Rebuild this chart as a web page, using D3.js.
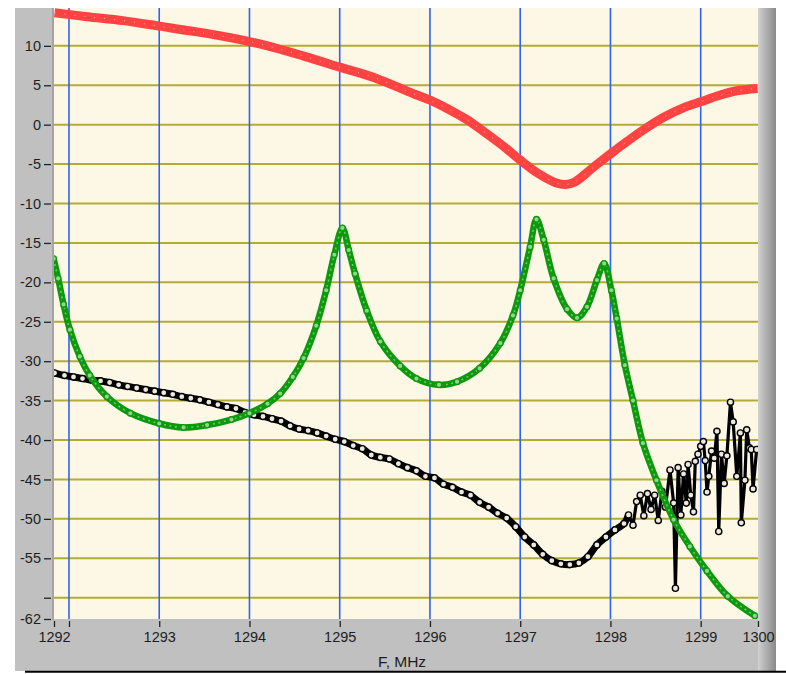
<!DOCTYPE html>
<html>
<head>
<meta charset="utf-8">
<script src="https://cdn.jsdelivr.net/npm/d3@7"></script>
<style>
  html, body { margin: 0; padding: 0; background: #ffffff; }
  svg { display: block; }
</style>
</head>
<body>
<svg id="chart" width="786" height="674"></svg>
<script>
// ---------- data ----------
const xDomain = [1291.834, 1299.635];
const yDomain = [-62.7, 14.8];
const xTickValues = [1292, 1293, 1294, 1295, 1296, 1297, 1298, 1299];
const yTickValues = [-60, -55, -50, -45, -40, -35, -30, -25, -20, -15, -10, -5, 0, 5, 10];
const xAxisTitle = "F, MHz";

const freqRed = [1291.84, 1292.2, 1292.6, 1293.0, 1293.4, 1293.8, 1294.2, 1294.6, 1295.0, 1295.4,
  1295.8, 1296.0, 1296.2, 1296.4, 1296.6, 1296.8, 1297.0, 1297.2, 1297.4, 1297.5, 1297.6, 1297.8,
  1298.0, 1298.2, 1298.4, 1298.6, 1298.8, 1299.0, 1299.2, 1299.4, 1299.63];
const valRed = [14.2, 13.7, 13.2, 12.5, 11.8, 11.0, 10.0, 8.7, 7.3, 5.9,
  4.0, 3.1, 2.0, 0.7, -0.9, -2.6, -4.5, -6.2, -7.4, -7.6, -7.3, -5.5,
  -3.7, -2.0, -0.4, 1.0, 2.1, 2.9, 3.7, 4.3, 4.6];

const freqGreen = [1291.83, 1291.88, 1291.94, 1292.01, 1292.12, 1292.23, 1292.42, 1292.68, 1293.0, 1293.27,
  1293.53, 1293.8, 1294.0, 1294.2, 1294.34, 1294.48, 1294.6, 1294.74, 1294.85, 1294.94,
  1295.03, 1295.1, 1295.17, 1295.3, 1295.45, 1295.67, 1295.85, 1296.1, 1296.3, 1296.55,
  1296.78, 1296.92, 1297.0, 1297.11, 1297.18, 1297.26, 1297.37, 1297.52, 1297.63, 1297.74,
  1297.85, 1297.93, 1298.01, 1298.07, 1298.16, 1298.25, 1298.36, 1298.51, 1298.7, 1298.88,
  1299.07, 1299.3, 1299.6];
const valGreen = [-17.0, -19.5, -22.8, -26.0, -29.4, -31.8, -34.5, -36.6, -37.9, -38.4,
  -38.1, -37.4, -36.6, -35.4, -34.1, -32.0, -29.6, -25.5, -21.0, -16.5,
  -13.1, -15.9, -18.9, -23.6, -27.5, -30.6, -32.2, -33.0, -32.6, -30.9,
  -27.7, -24.2, -21.0, -15.5, -12.0, -14.6, -19.5, -23.4, -24.5, -23.1,
  -19.7, -17.6, -21.0, -24.6, -30.5, -35.0, -40.4, -45.1, -50.1, -53.5,
  -56.6, -59.8, -62.3];

const freqBlack = [1291.84, 1291.95, 1292.05, 1292.15, 1292.25, 1292.35, 1292.45, 1292.55, 1292.65, 1292.75,
  1292.85, 1292.95, 1293.05, 1293.15, 1293.25, 1293.35, 1293.45, 1293.55, 1293.65, 1293.75,
  1293.85, 1293.95, 1294.05, 1294.15, 1294.25, 1294.35, 1294.45, 1294.55, 1294.65, 1294.75,
  1294.85, 1294.95, 1295.05, 1295.15, 1295.25, 1295.35, 1295.45, 1295.55, 1295.65, 1295.75,
  1295.85, 1295.95, 1296.05, 1296.15, 1296.25, 1296.35, 1296.45, 1296.55, 1296.65, 1296.75,
  1296.85, 1296.95, 1297.05, 1297.15, 1297.25, 1297.35, 1297.45, 1297.55, 1297.65, 1297.75,
  1297.85, 1297.95, 1298.05, 1298.15, 1298.2, 1298.25, 1298.29, 1298.33, 1298.37, 1298.41,
  1298.45, 1298.49, 1298.53, 1298.57, 1298.61, 1298.66, 1298.7, 1298.72, 1298.75, 1298.78,
  1298.81, 1298.84, 1298.86, 1298.89, 1298.92, 1298.94, 1298.97, 1299.0, 1299.03, 1299.05,
  1299.07, 1299.09, 1299.12, 1299.15, 1299.18, 1299.2, 1299.23, 1299.26, 1299.29, 1299.33,
  1299.36, 1299.4, 1299.44, 1299.45, 1299.49, 1299.51, 1299.54, 1299.56, 1299.58, 1299.62];
const valBlack = [-31.5, -31.8, -32.0, -32.2, -32.4, -32.5, -32.7, -33.0, -33.2, -33.4,
  -33.6, -33.8, -34.0, -34.2, -34.5, -34.7, -34.9, -35.2, -35.5, -35.8,
  -36.0, -36.5, -36.8, -37.0, -37.3, -37.6, -38.2, -38.6, -38.8, -39.1,
  -39.5, -39.9, -40.2, -40.7, -41.1, -41.9, -42.2, -42.4, -43.0, -43.5,
  -43.9, -44.6, -44.8, -45.6, -46.0, -46.6, -47.0, -47.9, -48.5, -49.3,
  -49.9, -51.0, -52.3, -53.3, -54.5, -55.3, -55.7, -55.8, -55.6, -54.8,
  -53.3, -52.3, -51.4, -50.6, -49.5, -50.8, -47.8, -47.0, -49.6, -46.8,
  -48.8, -47.0, -50.2, -46.5, -48.5, -43.8, -48.0, -58.8, -43.5, -49.5,
  -44.3, -48.0, -43.1, -47.0, -49.1, -42.7, -41.8, -40.8, -40.2, -42.6,
  -46.6, -44.6, -41.4, -42.3, -38.9, -51.6, -41.8, -45.5, -42.0, -35.2,
  -37.7, -44.6, -39.1, -50.5, -45.1, -38.7, -41.0, -41.2, -46.2, -41.2];

// ---------- layout ----------
const svg = d3.select("#chart");
const plot = { left: 54, right: 758, top: 8, bottom: 619 };
const FONT = "'Liberation Sans', Arial, sans-serif";
const TEXT = "#1e1e1e";
const noiseStart = 1298.2; // where the black trace turns noisy (style change only)

const x = d3.scaleLinear().domain(xDomain).range([plot.left, plot.right]);
const y = d3.scaleLinear().domain(yDomain).range([plot.bottom, plot.top]);

const defs = svg.append("defs");
const grad = defs.append("linearGradient").attr("id", "rbar").attr("x1", "0").attr("x2", "1");
grad.append("stop").attr("offset", "0").attr("stop-color", "#d2d2d2");
grad.append("stop").attr("offset", "0.25").attr("stop-color", "#bdbdbd");
grad.append("stop").attr("offset", "1").attr("stop-color", "#8a8a8a");
defs.append("clipPath").attr("id", "clip").append("rect")
  .attr("x", plot.left).attr("y", plot.top)
  .attr("width", plot.right - plot.left).attr("height", plot.bottom - plot.top);

// panel
svg.append("rect").attr("x", 15).attr("y", 8).attr("width", 746).attr("height", 663).attr("fill", "#c0c0c0");
svg.append("rect").attr("x", 758).attr("y", 8).attr("width", 18).attr("height", 663).attr("fill", "url(#rbar)");
svg.append("line").attr("x1", 25).attr("x2", 786).attr("y1", 671.8).attr("y2", 671.8)
  .attr("stroke", "#000").attr("stroke-width", 2);

// plot background
svg.append("rect").attr("x", plot.left).attr("y", plot.top)
  .attr("width", plot.right - plot.left).attr("height", plot.bottom - plot.top)
  .attr("fill", "#fdf8e6");

// grid
const grid = svg.append("g").attr("clip-path", "url(#clip)");
grid.selectAll("line.h").data(yTickValues).join("line").attr("class", "h")
  .attr("x1", plot.left).attr("x2", plot.right)
  .attr("y1", d => y(d)).attr("y2", d => y(d))
  .attr("stroke", "#b2ab36").attr("stroke-width", 2);
grid.selectAll("line.v").data(xTickValues).join("line").attr("class", "v")
  .attr("y1", plot.top).attr("y2", plot.bottom)
  .attr("x1", d => x(d)).attr("x2", d => x(d))
  .attr("stroke", "#2d62f6").attr("stroke-width", 1.6);

// left axis line
svg.append("line").attr("x1", plot.left - 1).attr("x2", plot.left - 1)
  .attr("y1", plot.top).attr("y2", plot.bottom + 1)
  .attr("stroke", "#9a9a9a").attr("stroke-width", 1.5);

// axes
const yTicksAll = [yDomain[0]].concat(yTickValues);
const yAxis = d3.axisLeft(y).tickValues(yTicksAll).tickSizeOuter(0).tickSize(7).tickPadding(3)
  .tickFormat(d => d === yDomain[0] ? String(Math.round(d + 0.5)) : (d === -60 ? "" : String(d)));
const gy = svg.append("g").attr("transform", `translate(${plot.left - 3},0)`).call(yAxis);
gy.select(".domain").remove();
gy.selectAll(".tick line").attr("stroke", "#222").attr("stroke-width", 1.3);
gy.selectAll(".tick text").attr("fill", TEXT).style("font-family", FONT).style("font-size", "14.5px");

const xTicksAll = [xDomain[0]].concat(xTickValues, [xDomain[1]]);
const xAxis = d3.axisBottom(x).tickValues(xTicksAll).tickSizeOuter(0).tickSize(6).tickPadding(5)
  .tickFormat(d => (d === xDomain[0] || d === xDomain[1]) ? String(Math.round(d)) : (d === 1292 ? "" : String(d)));
const gx = svg.append("g").attr("transform", `translate(0,${plot.bottom + 2})`).call(xAxis);
gx.select(".domain").remove();
gx.selectAll(".tick line").attr("stroke", "#222").attr("stroke-width", 1.3);
gx.selectAll(".tick text").attr("fill", TEXT).style("font-family", FONT).style("font-size", "14.5px");

svg.append("text").attr("x", 402).attr("y", 667).attr("text-anchor", "middle")
  .attr("fill", TEXT).style("font-family", FONT).style("font-size", "15.5px").text(xAxisTitle);

// ---------- series ----------
const layer = svg.append("g").attr("clip-path", "url(#clip)");
const pts = (fs, vs) => fs.map((f, i) => [f, vs[i]]);
const smooth = d3.line().x(d => x(d[0])).y(d => y(d[1])).curve(d3.curveCatmullRom.alpha(0.5));
const straight = d3.line().x(d => x(d[0])).y(d => y(d[1]));

// black
const black = pts(freqBlack, valBlack);
const blackSmooth = black.filter(d => d[0] <= noiseStart);
const blackNoisy = black.filter(d => d[0] >= noiseStart);
layer.append("path").attr("d", smooth(blackSmooth)).attr("fill", "none")
  .attr("stroke", "#000").attr("stroke-width", 7).attr("stroke-linejoin", "round");
layer.append("path").attr("d", straight(blackNoisy)).attr("fill", "none")
  .attr("stroke", "#000").attr("stroke-width", 3.2).attr("stroke-linejoin", "round");
layer.selectAll("circle.b").data(black).join("circle").attr("class", "b")
  .attr("cx", d => x(d[0])).attr("cy", d => y(d[1])).attr("r", 3.1)
  .attr("fill", "#ece8dc").attr("stroke", "#000").attr("stroke-width", 1.4);

// green
const green = pts(freqGreen, valGreen);
layer.append("path").attr("d", smooth(green)).attr("fill", "none")
  .attr("stroke", "#0c990c").attr("stroke-width", 6.5).attr("stroke-linejoin", "round");
layer.append("path").attr("d", smooth(green)).attr("fill", "none")
  .attr("stroke", "#6cc46c").attr("stroke-width", 1.6).attr("stroke-dasharray", "2,3.5");
layer.selectAll("circle.g").data(green).join("circle").attr("class", "g")
  .attr("cx", d => x(d[0])).attr("cy", d => y(d[1])).attr("r", 2.8)
  .attr("fill", "#8fd58f").attr("stroke", "#0c990c").attr("stroke-width", 1.4);

// red
const red = pts(freqRed, valRed);
layer.append("path").attr("d", smooth(red)).attr("fill", "none")
  .attr("stroke", "#ff4343").attr("stroke-width", 9).attr("stroke-linecap", "butt");
layer.append("path").attr("d", smooth(red)).attr("fill", "none")
  .attr("stroke", "#ffb0b0").attr("stroke-width", 1).attr("stroke-dasharray", "1,9");
</script>
</body>
</html>
